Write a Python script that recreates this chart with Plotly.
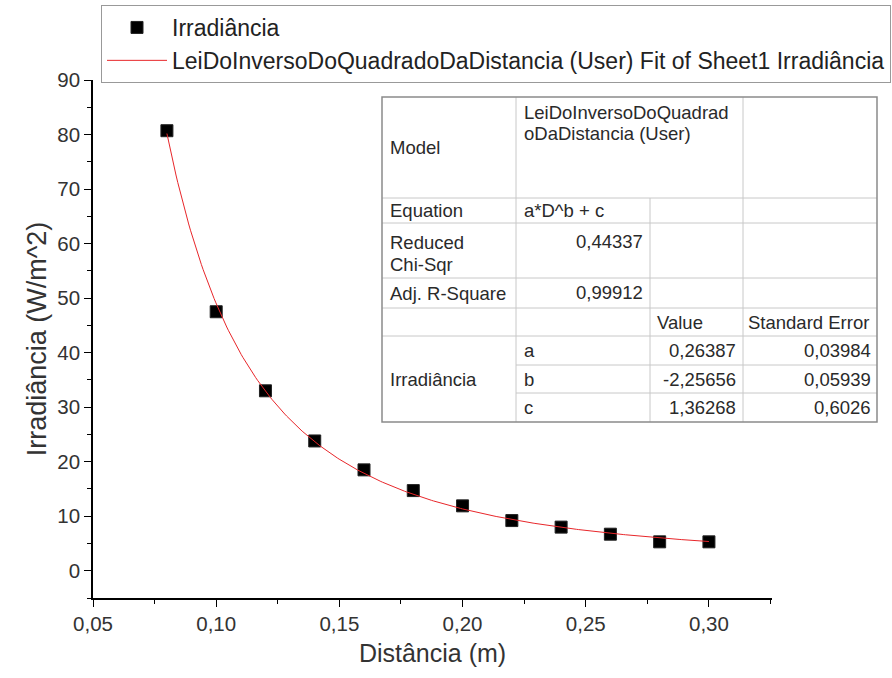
import numpy as np
import plotly.graph_objects as go

# Measured irradiance vs distance
distancia = [0.08, 0.10, 0.12, 0.14, 0.16, 0.18, 0.20, 0.22, 0.24, 0.26, 0.28, 0.30]
irradiancia = [80.7, 47.5, 33.0, 23.8, 18.5, 14.7, 11.9, 9.2, 8.0, 6.7, 5.3, 5.3]

# Fit parameters (a*D^b + c)
fit_a, fit_b, fit_c = 0.26387, -2.25656, 1.36268
fit_stats = {"chi": "0,44337", "r2": "0,99912"}
param_names = ["a", "b", "c"]
param_values = ["0,26387", "-2,25656", "1,36268"]
param_errors = ["0,03984", "0,05939", "0,6026"]

x_ticks = [0.05, 0.10, 0.15, 0.20, 0.25, 0.30]
y_ticks = list(range(0, 100, 10))

FONT = "Liberation Sans, Arial, sans-serif"
W, H = 892, 678
L, R, T, B = 93, 120, 80, 80
PW, PH = W - L - R, H - T - B


def px(x):
    return (x - L) / PW


def py(y):
    return (H - B - y) / PH


d_fit = np.linspace(min(distancia), max(distancia), 300)
i_fit = fit_a * d_fit ** fit_b + fit_c

fig = go.Figure()
fig.add_trace(go.Scatter(
    x=distancia, y=irradiancia, mode="markers", name="Irradiância",
    marker=dict(symbol="square", size=12, color="black",
                line=dict(color="#222", width=1)),
))
fig.add_trace(go.Scatter(
    x=d_fit, y=i_fit, mode="lines",
    name="LeiDoInversoDoQuadradoDaDistancia (User) Fit of Sheet1 Irradiância",
    line=dict(color="#e8262a", width=1),
))

# ---- parameter table drawn with shapes and annotations ----
cols = [382, 516, 650, 743, 877]
rows = [97, 198, 223, 278, 308, 336, 365, 393, 422]
shapes = []
inner = dict(color="#c8c8c8", width=1)
outer = dict(color="#8a8a8a", width=1.5)


def hline(y, x0, x1, line):
    shapes.append(dict(type="line", xref="paper", yref="paper",
                       x0=px(x0), x1=px(x1), y0=py(y), y1=py(y), line=line))


def vline(x, y0, y1, line):
    shapes.append(dict(type="line", xref="paper", yref="paper",
                       x0=px(x), x1=px(x), y0=py(y0), y1=py(y1), line=line))


shapes.append(dict(type="rect", xref="paper", yref="paper",
                   x0=px(cols[0]), x1=px(cols[-1]), y0=py(rows[-1]), y1=py(rows[0]),
                   fillcolor="white", line=dict(width=0), layer="above"))
for y in rows[1:6]:
    hline(y, cols[0], cols[-1], inner)
for y in rows[6:8]:
    hline(y, cols[1], cols[-1], inner)
vline(cols[1], rows[0], rows[-1], inner)
vline(cols[2], rows[1], rows[-1], inner)
vline(cols[3], rows[0], rows[-1], inner)
shapes.append(dict(type="rect", xref="paper", yref="paper",
                   x0=px(cols[0]), x1=px(cols[-1]), y0=py(rows[-1]), y1=py(rows[0]),
                   line=outer, layer="above"))
for s in shapes:
    s.setdefault("layer", "above")

ann = []
TF = dict(family=FONT, size=18.5, color="#2a2a2a")


def text(x, y, s, xa="left", ya="middle"):
    ann.append(dict(x=px(x), y=py(y), xref="paper", yref="paper", text=s,
                    showarrow=False, xanchor=xa, yanchor=ya, font=TF, align=xa))


c1, c2 = cols[0] + 6, cols[1] + 6
text(c1, (rows[0] + rows[1]) / 2, "Model")
text(c2, 112, "LeiDoInversoDoQuadrad")
text(c2, 133, "oDaDistancia (User)")
text(c1, (rows[1] + rows[2]) / 2, "Equation")
text(c2, 210, "a*D^b + c")
text(c1, 242, "Reduced")
text(c1, 264, "Chi-Sqr")
text(cols[2] - 5, 241, fit_stats["chi"], xa="right")
text(c1, (rows[3] + rows[4]) / 2, "Adj. R-Square")
text(cols[2] - 5, (rows[3] + rows[4]) / 2 - 1, fit_stats["r2"], xa="right")
text(cols[2] + 5, (rows[4] + rows[5]) / 2, "Value")
text(cols[3] + 3, (rows[4] + rows[5]) / 2, "Standard Error")
text(c1, (rows[5] + rows[8]) / 2, "Irradiância")
for k in range(3):
    yc = (rows[5 + k] + rows[6 + k]) / 2
    text(c2, yc, param_names[k])
    text(cols[3] - 5, yc, param_values[k], xa="right")
    text(cols[4] - 4, yc, param_errors[k], xa="right")

axis_common = dict(showline=True, linecolor="black", linewidth=1.6,
                   ticks="outside", tickcolor="black", tickwidth=1.4, ticklen=7,
                   showgrid=False, zeroline=False, mirror=False, automargin=False,
                   tickfont=dict(family=FONT, size=20.5, color="#333"))

fig.update_layout(
    width=W, height=H,
    margin=dict(l=L, r=R, t=T, b=B, autoexpand=False),
    paper_bgcolor="white", plot_bgcolor="white",
    separators=",.",
    shapes=shapes, annotations=ann,
    xaxis=dict(range=[0.05, 0.3256], tickvals=x_ticks, tickformat=".2f",
               minor=dict(dtick=0.025, tick0=0.05, ticks="outside", ticklen=4,
                          tickcolor="black", tickwidth=1.4),
               title=dict(text="Distância (m)", font=dict(family=FONT, size=25, color="#333"),
                          standoff=10),
               **axis_common),
    yaxis=dict(range=[-5, 90], tickvals=y_ticks,
               minor=dict(dtick=5, tick0=0, ticks="outside", ticklen=4,
                          tickcolor="black", tickwidth=1.4),
               title=dict(text="Irradiância (W/m^2)", font=dict(family=FONT, size=27, color="#333"),
                          standoff=3),
               **axis_common),
    legend=dict(x=px(101), y=py(5), xanchor="left", yanchor="top",
                bordercolor="#999", borderwidth=1, bgcolor="white",
                font=dict(family=FONT, size=23, color="#222"),
                tracegroupgap=0, itemwidth=60),
    showlegend=True,
)

fig.write_html("out.html")
